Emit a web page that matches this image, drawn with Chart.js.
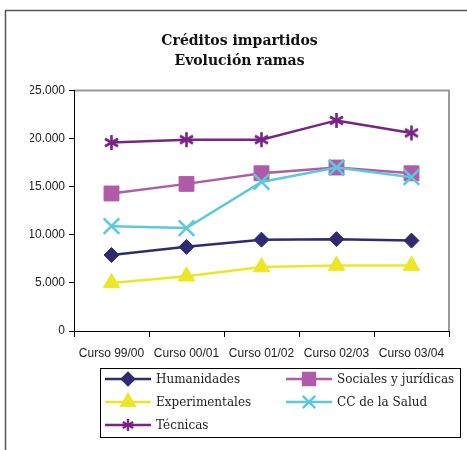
<!DOCTYPE html>
<html>
<head>
<meta charset="utf-8">
<script src="https://cdn.jsdelivr.net/npm/chart.js@4"></script>
<style>
  body { margin: 0; background: #fff; }
  #wrap { width: 467px; height: 450px; }
</style>
</head>
<body>
<div id="wrap"><canvas id="creditos-chart" width="467" height="450"></canvas></div>
<script>
// datos
const cursos = ["Curso 99/00", "Curso 00/01", "Curso 01/02", "Curso 02/03", "Curso 03/04"];
const humanidades = [7900, 8750, 9500, 9550, 9400];
const sociales = [14300, 15300, 16400, 17000, 16400];
const experimentales = [5000, 5700, 6650, 6800, 6800];
const ccSalud = [10900, 10700, 15500, 17000, 16000];
const tecnicas = [19600, 19900, 19900, 21900, 20600];
const yTicks = [0, 5000, 10000, 15000, 20000, 25000];
const yTickLabels = ["0", "5.000", "10.000", "15.000", "20.000", "25.000"];
const titulo = ["Créditos impartidos", "Evolución ramas"];

// asterisco de 6 brazos para "Técnicas"
function asterisco(color, size, lw) {
  const c = document.createElement("canvas");
  c.width = size; c.height = size;
  const g = c.getContext("2d");
  const r = size / 2 - 1;
  g.strokeStyle = color;
  g.lineWidth = lw;
  [90, 30, 150].forEach(a => {
    const rad = a * Math.PI / 180;
    g.beginPath();
    g.moveTo(size / 2 - Math.cos(rad) * r, size / 2 - Math.sin(rad) * r);
    g.lineTo(size / 2 + Math.cos(rad) * r, size / 2 + Math.sin(rad) * r);
    g.stroke();
  });
  return c;
}

const series = [
  { label: "Humanidades", data: humanidades, color: "#2E2B70", style: "rectRot", radius: 7.5 },
  { label: "Sociales y jurídicas", data: sociales, color: "#B05BA9", style: "rect", radius: 10.5 },
  { label: "Experimentales", data: experimentales, color: "#EDE626", style: "triangle", radius: 9.5 },
  { label: "CC de la Salud", data: ccSalud, color: "#5BC8DC", style: "crossRot", radius: 11 },
  { label: "Técnicas", data: tecnicas, color: "#7A2386", style: asterisco("#7A2386", 17, 2.6), radius: 8 }
];
const asteriscoLeyenda = asterisco("#7A2386", 14, 2.4);

// marco exterior y borde gris del area de trazado
const marcoPlugin = {
  id: "marco",
  beforeDraw(chart) {
    const ctx = chart.ctx;
    const a = chart.chartArea;
    ctx.save();
    ctx.fillStyle = "#fff";
    ctx.fillRect(0, 0, chart.width, chart.height);
    ctx.strokeStyle = "#555";
    ctx.lineWidth = 1.5;
    ctx.beginPath();
    ctx.moveTo(5.5, chart.height);
    ctx.lineTo(5.5, 10.5);
    ctx.lineTo(chart.width, 10.5);
    ctx.stroke();
    ctx.strokeStyle = "#999";
    ctx.lineWidth = 2;
    ctx.beginPath();
    ctx.moveTo(a.left, a.top);
    ctx.lineTo(a.right, a.top);
    ctx.lineTo(a.right, a.bottom);
    ctx.stroke();
    ctx.restore();
  }
};

// leyenda a mano, dos columnas, con caja
const leyendaPlugin = {
  id: "leyendaCaja",
  afterDraw(chart) {
    const ctx = chart.ctx;
    ctx.save();
    ctx.strokeStyle = "#000";
    ctx.lineWidth = 1;
    ctx.strokeRect(100.5, 368.5, 360, 69);
    const cols = [105, 286];
    const rows = [379, 402, 425];
    ctx.font = "12px 'DejaVu Serif'";
    ctx.textBaseline = "middle";
    chart.data.datasets.forEach((ds, i) => {
      const x = cols[i % 2];
      const y = rows[Math.floor(i / 2)];
      ctx.strokeStyle = ds.borderColor;
      ctx.fillStyle = ds.borderColor;
      ctx.lineWidth = 2.5;
      ctx.beginPath();
      ctx.moveTo(x, y);
      ctx.lineTo(x + 46, y);
      ctx.stroke();
      const st = typeof ds.pointStyle === "string" ? ds.pointStyle : asteriscoLeyenda;
      Chart.helpers.drawPoint(ctx, {
        pointStyle: st,
        radius: ds.pointRadius * 0.8,
        rotation: 0,
        borderWidth: ds.pointBorderWidth
      }, x + 23, y);
      ctx.fillStyle = "#222";
      ctx.fillText(ds.label, x + 51, y + 1);
    });
    ctx.restore();
  }
};

new Chart(document.getElementById("creditos-chart"), {
  type: "line",
  data: {
    labels: cursos,
    datasets: series.map((s, i) => ({
      label: s.label,
      data: s.data,
      borderColor: s.color,
      backgroundColor: s.color,
      pointBackgroundColor: s.color,
      pointBorderColor: s.color,
      pointStyle: s.style,
      pointRadius: s.radius,
      pointHoverRadius: s.radius,
      pointBorderWidth: (s.style === "crossRot") ? 2.5 : 1,
      borderWidth: 2.5,
      tension: 0,
      fill: false,
      order: series.length - i
    }))
  },
  options: {
    responsive: false,
    animation: false,
    layout: { padding: { left: 30, right: 18, top: 0, bottom: 89 } },
    plugins: {
      legend: { display: false },
      tooltip: { enabled: false },
      title: {
        display: true,
        text: titulo,
        color: "#111",
        font: { family: "'DejaVu Serif'", size: 14, weight: "bold", lineHeight: 1.45 },
        padding: { top: 31, bottom: 19 }
      }
    },
    scales: {
      x: {
        offset: true,
        grid: { offset: true, drawOnChartArea: false, tickLength: 6, color: "#000", tickColor: "#000" },
        border: { color: "#000", width: 1 },
        ticks: { color: "#222", font: { family: "'Liberation Sans'", size: 12 }, padding: 9, maxRotation: 0, autoSkip: false },
        afterFit(scale) { scale.height = 30; }
      },
      y: {
        min: 0,
        max: 25000,
        afterBuildTicks(scale) { scale.ticks = yTicks.map(v => ({ value: v })); },
        grid: { drawOnChartArea: false, tickLength: 5, color: "#000", tickColor: "#000" },
        border: { color: "#000", width: 1 },
        ticks: {
          color: "#222",
          font: { family: "'Liberation Sans'", size: 12 },
          padding: 4,
          callback: (v) => yTickLabels[yTicks.indexOf(v)]
        },
        afterFit(scale) { scale.width = 44; }
      }
    }
  },
  plugins: [marcoPlugin, leyendaPlugin]
});
</script>
</body>
</html>
